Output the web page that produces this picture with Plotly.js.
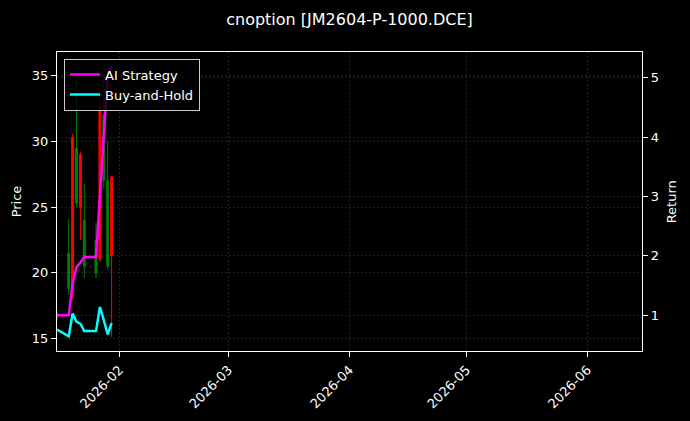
<!DOCTYPE html>
<html>
<head>
<meta charset="utf-8">
<script src="https://cdn.plot.ly/plotly-3.0.1.min.js"></script>
<style>
  html, body { margin: 0; padding: 0; background: #000; }
  #chart { width: 690px; height: 421px; }
</style>
</head>
<body>
<div id="chart"></div>
<script>
// daily bars
const dates = ['2026-01-16', '2026-01-19', '2026-01-20', '2026-01-21', '2026-01-22', '2026-01-23',
               '2026-01-26', '2026-01-27', '2026-01-28', '2026-01-29', '2026-01-30']
const open  = [16.9, 18.8, 30.3, 25.3, 29.0, 20.5, 20.0, 32.6, 27.0, 20.5, 27.3]
const high  = [17.0, 24.1, 30.6, 34.8, 29.2, 26.8, 23.8, 33.3, 35.7, 30.0, 27.4]
const low   = [16.4, 18.3, 18.0, 25.0, 22.5, 19.6, 19.6, 20.8, 26.4, 20.2, 15.1]
const close = [16.6, 21.5, 18.6, 29.5, 25.0, 24.0, 22.5, 21.0, 32.0, 27.0, 21.3]

// cumulative returns
const ai_return  = [1.0, 1.0, 1.54, 1.81, 1.89, 1.98, 1.98, 3.0, 4.03, 5.04, 5.2]
const bh_return  = [0.76, 0.646, 1.03, 0.89, 0.86, 0.735, 0.735, 1.14, 0.92, 0.68, 0.87]

const month_ticks = ['2026-02-01', '2026-03-01', '2026-04-01', '2026-05-01', '2026-06-01']
const month_labels = ['2026-02', '2026-03', '2026-04', '2026-05', '2026-06']

const font_family = 'DejaVu Sans, sans-serif'
const grid_color = 'rgba(128,128,128,0.5)'
const grid_dash = '2px,2px'

const data = [
    {
        type: 'candlestick',
        x: dates, open: open, high: high, low: low, close: close,
        increasing: { line: { color: '#008000', width: 1 }, fillcolor: '#008000' },
        decreasing: { line: { color: '#ff0000', width: 1 }, fillcolor: '#ff0000' },
        showlegend: false,
        hoverinfo: 'skip',
    },
    {
        type: 'scatter', mode: 'lines', name: 'AI Strategy',
        x: dates, y: ai_return, yaxis: 'y2',
        line: { color: '#ff00ff', width: 2.5 },
    },
    {
        type: 'scatter', mode: 'lines', name: 'Buy-and-Hold',
        x: dates, y: bh_return, yaxis: 'y2',
        line: { color: '#00ffff', width: 2.5 },
    },
]

const layout = {
    width: 690,
    height: 421,
    paper_bgcolor: '#000',
    plot_bgcolor: '#000',
    font: { family: font_family, color: '#fff', size: 13 },
    margin: { l: 57, r: 48, t: 52, b: 70 },
    title: {
        text: 'cnoption [JM2604-P-1000.DCE]',
        font: { size: 16, color: '#fff' },
        x: 0.5, xref: 'paper', xanchor: 'center',
        y: 0.955, yref: 'container', yanchor: 'middle',
    },
    xaxis: {
        type: 'date',
        range: ['2026-01-16', '2026-06-15'],
        tickvals: month_ticks,
        ticktext: month_labels,
        tickangle: -45,
        ticks: 'outside', ticklen: 5, tickcolor: '#fff',
        showline: true, linecolor: '#fff', linewidth: 1.2, mirror: true,
        showgrid: true, gridcolor: grid_color, griddash: grid_dash, gridwidth: 0.5,
        zeroline: false,
        rangeslider: { visible: false },
        tickfont: { size: 13 },
    },
    yaxis: {
        range: [14.05, 36.8],
        tickvals: [15, 20, 25, 30, 35],
        ticks: 'outside', ticklen: 5, tickcolor: '#fff',
        showline: true, linecolor: '#fff', linewidth: 1.2,
        showgrid: true, gridcolor: grid_color, griddash: grid_dash, gridwidth: 0.5,
        zeroline: false,
        title: { text: 'Price', font: { size: 13 } },
    },
    yaxis2: {
        overlaying: 'y',
        side: 'right',
        range: [0.40, 5.43],
        tickvals: [1, 2, 3, 4, 5],
        ticks: 'outside', ticklen: 5, tickcolor: '#fff',
        showline: true, linecolor: '#fff', linewidth: 1.2,
        showgrid: true, gridcolor: grid_color, griddash: grid_dash, gridwidth: 0.5,
        zeroline: false,
    },
    // right axis title placed by hand, plotly puts it too far out
    annotations: [{
        text: 'Return',
        xref: 'paper', yref: 'paper',
        x: 1.051, y: 0.5,
        xanchor: 'center', yanchor: 'middle',
        textangle: -90,
        showarrow: false,
        font: { size: 13, color: '#fff' },
    }],
    legend: {
        x: 0.012, y: 0.978, xanchor: 'left', yanchor: 'top',
        bgcolor: 'rgba(0,0,0,0.8)',
        bordercolor: '#cccccc', borderwidth: 1,
        font: { size: 13, color: '#fff' },
        tracegroupgap: 0,
        itemclick: false, itemdoubleclick: false,
    },
    showlegend: true,
}

Plotly.newPlot('chart', data, layout, { displayModeBar: false, staticPlot: true })
</script>
</body>
</html>
